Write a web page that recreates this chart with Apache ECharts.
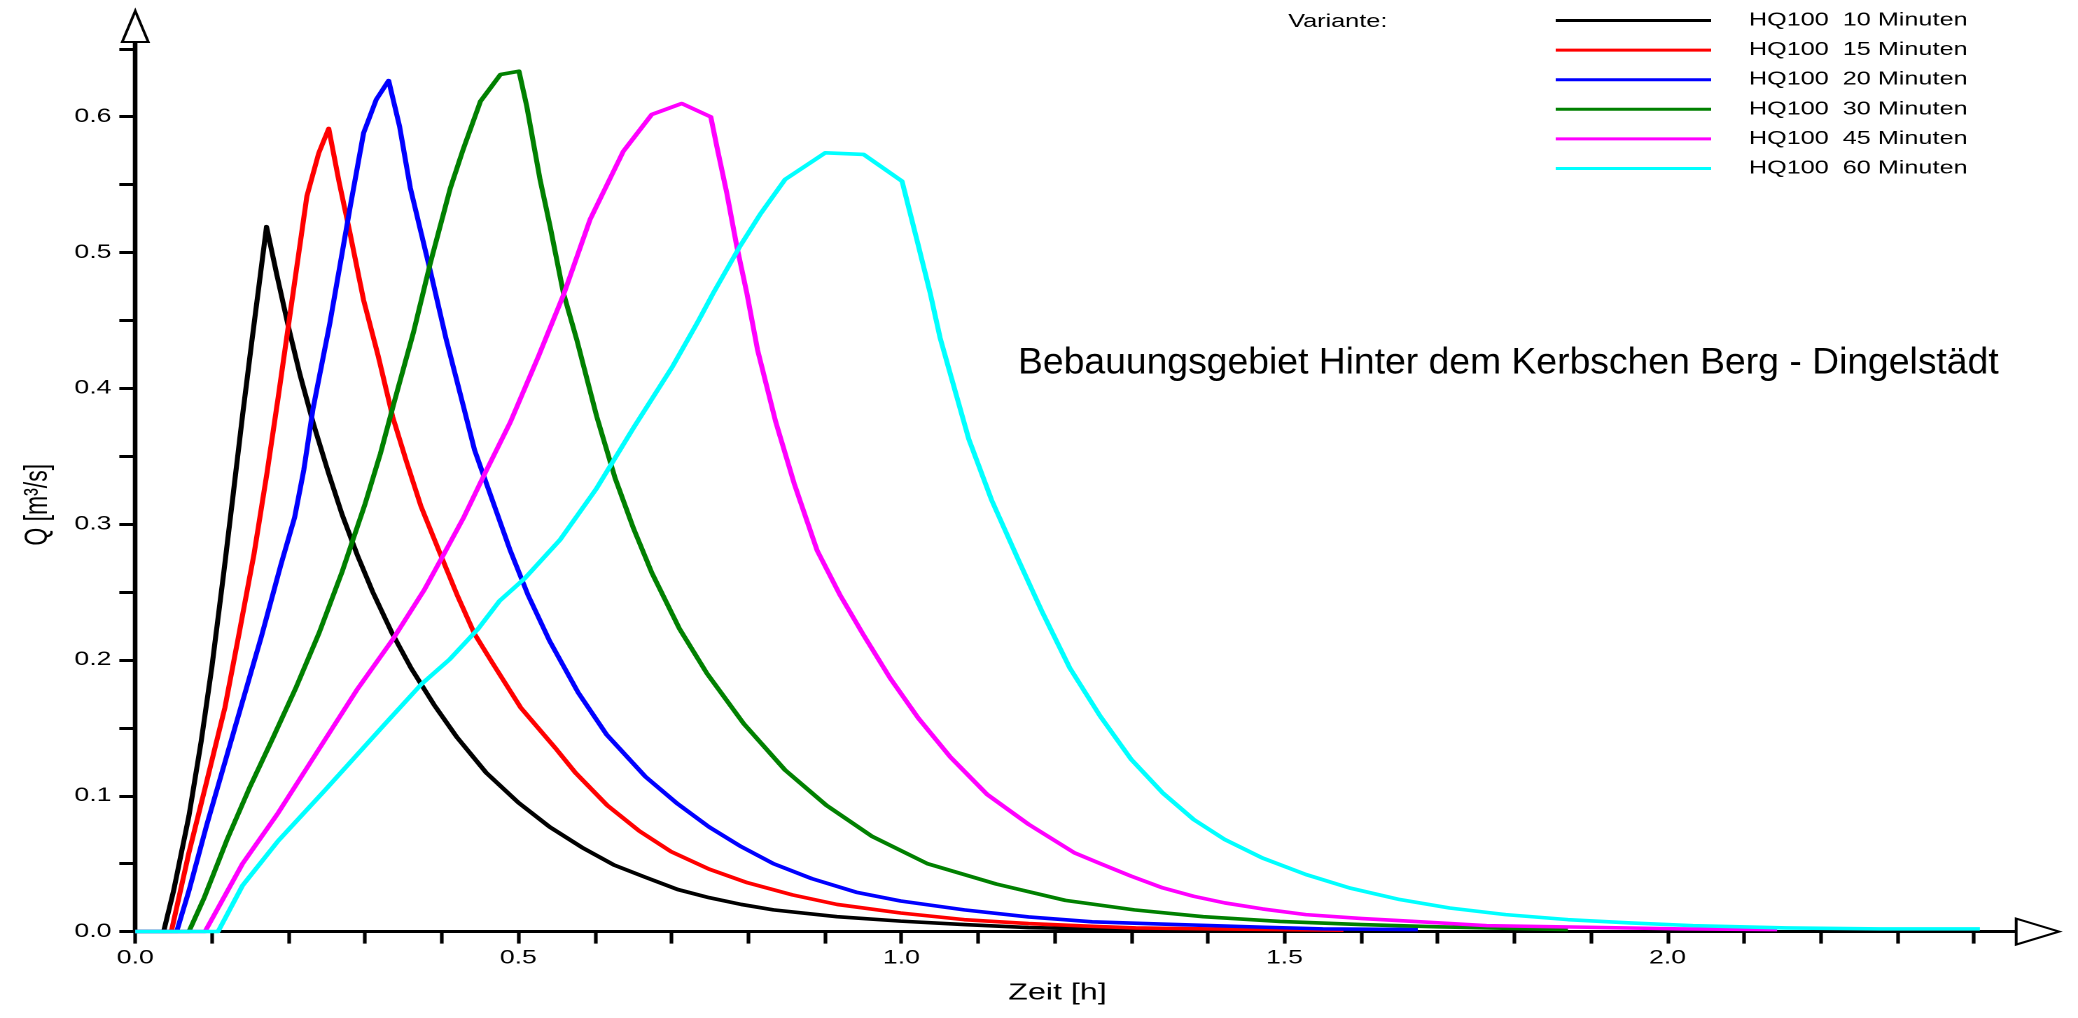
<!DOCTYPE html>
<html>
<head>
<meta charset="utf-8">
<script src="https://cdn.jsdelivr.net/npm/echarts@6/dist/echarts.min.js"></script>
<style>
  html, body { margin: 0; padding: 0; background: #ffffff; overflow: hidden; }
  /* the plot is laid out narrow and widened horizontally, giving the wide lettering of the sheet */
  #chart { width: 1484px; height: 1018px; transform: scaleX(1.40027); transform-origin: 0 0; }
</style>
</head>
<body>
<div id="chart"></div>
<script>
// Abflussganglinien HQ100 fuer verschiedene Regendauern: Zeit [h] / Abfluss Q [m3/s]
const t10 = [0, 0.037, 0.050, 0.070, 0.086, 0.100, 0.115, 0.128, 0.140, 0.152, 0.162, 0.1713, 0.185, 0.200, 0.215, 0.233, 0.252, 0.270, 0.290, 0.310, 0.335, 0.360, 0.390, 0.420, 0.458, 0.500, 0.541, 0.583, 0.625, 0.666, 0.708, 0.749, 0.791, 0.833, 0.916, 0.999, 1.082, 1.166, 1.249, 1.306, 1.400];
const q10 = [0, 0, 0.030, 0.085, 0.140, 0.195, 0.262, 0.323, 0.380, 0.434, 0.478, 0.519, 0.483, 0.445, 0.410, 0.373, 0.338, 0.307, 0.277, 0.250, 0.220, 0.194, 0.167, 0.143, 0.117, 0.095, 0.077, 0.062, 0.049, 0.040, 0.031, 0.025, 0.020, 0.016, 0.011, 0.0077, 0.0052, 0.0030, 0.0020, 0.0015, 0.0010];

const t15 = [0, 0.047, 0.070, 0.093, 0.117, 0.135, 0.155, 0.172, 0.1867, 0.224, 0.2396, 0.2525, 0.266, 0.280, 0.298, 0.317, 0.336, 0.354, 0.373, 0.396, 0.420, 0.443, 0.466, 0.503, 0.550, 0.5745, 0.616, 0.658, 0.699, 0.749, 0.799, 0.858, 0.916, 0.999, 1.082, 1.166, 1.249, 1.306, 1.400, 1.577];
const q15 = [0, 0, 0.058, 0.110, 0.165, 0.218, 0.278, 0.338, 0.394, 0.5415, 0.5734, 0.5913, 0.552, 0.515, 0.465, 0.424, 0.379, 0.346, 0.313, 0.281, 0.248, 0.219, 0.198, 0.165, 0.134, 0.117, 0.093, 0.074, 0.059, 0.046, 0.036, 0.027, 0.020, 0.0137, 0.0088, 0.0059, 0.0039, 0.0027, 0.0020, 0.0010];

const t20 = [0, 0.054, 0.070, 0.093, 0.130, 0.165, 0.190, 0.208, 0.220, 0.232, 0.254, 0.280, 0.298, 0.3146, 0.3307, 0.345, 0.359, 0.373, 0.387, 0.4056, 0.4243, 0.4429, 0.4662, 0.4895, 0.5128, 0.5408, 0.5781, 0.6154, 0.666, 0.708, 0.749, 0.791, 0.833, 0.883, 0.941, 0.999, 1.082, 1.166, 1.249, 1.329, 1.475, 1.550, 1.674];
const q20 = [0, 0, 0.030, 0.078, 0.150, 0.218, 0.270, 0.305, 0.340, 0.385, 0.448, 0.532, 0.588, 0.6127, 0.6266, 0.5928, 0.5476, 0.5147, 0.4818, 0.4366, 0.3956, 0.3545, 0.3175, 0.2805, 0.2476, 0.2140, 0.1760, 0.1449, 0.1140, 0.0940, 0.0770, 0.0625, 0.0500, 0.0390, 0.0290, 0.0225, 0.0160, 0.0108, 0.0072, 0.0057, 0.0032, 0.0020, 0.0015];

const t30 = [0, 0.070, 0.090, 0.120, 0.150, 0.180, 0.210, 0.240, 0.270, 0.300, 0.320, 0.339, 0.363, 0.385, 0.411, 0.428, 0.4506, 0.4767, 0.5008, 0.511, 0.5283, 0.5414, 0.5588, 0.5762, 0.6024, 0.6263, 0.6503, 0.6743, 0.7103, 0.7462, 0.7942, 0.8481, 0.9021, 0.962, 1.034, 1.124, 1.214, 1.304, 1.394, 1.494, 1.600, 1.700, 1.870];
const q30 = [0, 0, 0.025, 0.068, 0.107, 0.143, 0.180, 0.220, 0.265, 0.315, 0.352, 0.392, 0.441, 0.492, 0.547, 0.576, 0.6114, 0.6311, 0.6335, 0.6077, 0.5538, 0.5194, 0.4703, 0.4359, 0.3791, 0.3339, 0.2969, 0.2641, 0.2230, 0.1901, 0.1531, 0.1190, 0.0930, 0.0700, 0.0500, 0.0350, 0.0230, 0.0160, 0.0110, 0.0075, 0.0052, 0.0035, 0.0015];

const t45 = [0, 0.091, 0.140, 0.1865, 0.2424, 0.2891, 0.3357, 0.3776, 0.4009, 0.4289, 0.4569, 0.4895, 0.5268, 0.5594, 0.5936, 0.6371, 0.6741, 0.7133, 0.7512, 0.759, 0.772, 0.7851, 0.7982, 0.8122, 0.8361, 0.8601, 0.8901, 0.9201, 0.950, 0.986, 1.022, 1.0639, 1.1119, 1.166, 1.2258, 1.2595, 1.300, 1.341, 1.3816, 1.4223, 1.4712, 1.528, 1.6015, 1.6666, 1.764, 1.895, 2.017, 2.143];
const q45 = [0, 0, 0.050, 0.0874, 0.1367, 0.1778, 0.2148, 0.2520, 0.2760, 0.3052, 0.3380, 0.3750, 0.4243, 0.4695, 0.5243, 0.5746, 0.6016, 0.6097, 0.5999, 0.5783, 0.5440, 0.5047, 0.4703, 0.4284, 0.3750, 0.3298, 0.2805, 0.2476, 0.2189, 0.1860, 0.1572, 0.1285, 0.1010, 0.0790, 0.0580, 0.0501, 0.0408, 0.0322, 0.0260, 0.0211, 0.0167, 0.0125, 0.0096, 0.0076, 0.0044, 0.0032, 0.0020, 0.0015];

const t60 = [0, 0.108, 0.140, 0.1865, 0.2471, 0.3263, 0.373, 0.4103, 0.4476, 0.4755, 0.5082, 0.5548, 0.6014, 0.6503, 0.7013, 0.7343, 0.7546, 0.7894, 0.8155, 0.8482, 0.9006, 0.9507, 1.0008, 1.0201, 1.0375, 1.0505, 1.0879, 1.1179, 1.1538, 1.1838, 1.2197, 1.2595, 1.3001, 1.3409, 1.3816, 1.4224, 1.4712, 1.5282, 1.5852, 1.6504, 1.7155, 1.7888, 1.8702, 1.9517, 2.0331, 2.1553, 2.2774, 2.4077];
const q60 = [0, 0, 0.0339, 0.0668, 0.1038, 0.1531, 0.1819, 0.2004, 0.2230, 0.2435, 0.2600, 0.2887, 0.3257, 0.3709, 0.4161, 0.4490, 0.4703, 0.5047, 0.5280, 0.5538, 0.5734, 0.5722, 0.5525, 0.5096, 0.4703, 0.4372, 0.3627, 0.3175, 0.2723, 0.2353, 0.1942, 0.1586, 0.1267, 0.1022, 0.0825, 0.0677, 0.0542, 0.0420, 0.0321, 0.0236, 0.0174, 0.0125, 0.0088, 0.0064, 0.0044, 0.0027, 0.0020, 0.0020];

const seriesNames = ['HQ100  10 Minuten', 'HQ100  15 Minuten', 'HQ100  20 Minuten', 'HQ100  30 Minuten', 'HQ100  45 Minuten', 'HQ100  60 Minuten'];
const seriesTimes = [t10, t15, t20, t30, t45, t60];
const seriesFlows = [q10, q15, q20, q30, q45, q60];
const seriesColors = ['#000000', '#ff0000', '#0000ff', '#008000', '#ff00ff', '#00ffff'];

const xTickValues = [0, 0.1, 0.2, 0.3, 0.4, 0.5, 0.6, 0.7, 0.8, 0.9, 1.0, 1.1, 1.2, 1.3, 1.4, 1.5, 1.6, 1.7, 1.8, 1.9, 2.0, 2.1, 2.2, 2.3, 2.4];
const xLabelValues = [0, 0.5, 1.0, 1.5, 2.0];
const yTickValues = [0, 0.05, 0.1, 0.15, 0.2, 0.25, 0.3, 0.35, 0.4, 0.45, 0.5, 0.55, 0.6, 0.65];
const yLabelValues = [0, 0.1, 0.2, 0.3, 0.4, 0.5, 0.6];

const headline = 'Bebauungsgebiet Hinter dem Kerbschen Berg - Dingelstädt';

const FONT = '"Liberation Sans", Arial, sans-serif';
const STRETCH = 1.40027;

const chart = echarts.init(document.getElementById('chart'), null, { devicePixelRatio: 2 });

const series = seriesNames.map(function (name, i) {
  return {
    name: name,
    type: 'line',
    data: seriesTimes[i].map(function (t, k) { return [t, seriesFlows[i][k]]; }),
    showSymbol: false,
    symbol: 'none',
    color: seriesColors[i],
    lineStyle: { color: seriesColors[i], width: 3.6, join: 'round' },
    z: 2 + i
  };
});

chart.setOption({
  animation: false,
  backgroundColor: '#ffffff',
  textStyle: { fontFamily: FONT },
  title: {
    text: 'Variante:',
    left: 920, top: 12, padding: 0,
    textStyle: { fontSize: 18, fontWeight: 'normal', color: '#000', fontFamily: FONT, lineHeight: 20 }
  },
  // the project caption keeps its natural proportions, so it is narrowed back against the widening
  graphic: [{
    type: 'text',
    x: 727, y: 363,
    scaleX: 1 / STRETCH,
    silent: true,
    style: {
      text: headline,
      fontSize: 37.3, fontFamily: FONT, fill: '#000',
      align: 'left', verticalAlign: 'middle'
    }
  }],
  legend: {
    orient: 'vertical',
    left: 1111, top: 10.5, padding: 0,
    icon: 'rect',
    itemWidth: 111, itemHeight: 3, itemGap: 9.6,
    textStyle: { fontSize: 18, color: '#000', fontFamily: FONT, lineHeight: 20, padding: [0, 0, 0, 22] },
    data: seriesNames
  },
  grid: { left: 96.6, right: 44.2, top: 42, bottom: 86.4 },
  xAxis: {
    type: 'value', min: 0, max: 2.455,
    name: 'Zeit [h]', nameLocation: 'middle', nameGap: 50,
    nameTextStyle: { fontSize: 23, color: '#000', fontFamily: FONT, padding: [0, 26, 0, 0] },
    axisLine: {
      onZero: false,
      lineStyle: { color: '#000', width: 3 },
      symbol: ['none', 'emptyTriangle'], symbolSize: [26, 30.7], symbolOffset: [0, 15.4]
    },
    axisTick: { show: true, length: 12, customValues: xTickValues, lineStyle: { color: '#000', width: 2.6 } },
    axisLabel: {
      customValues: xLabelValues, margin: 17, fontSize: 19, color: '#000', fontFamily: FONT,
      formatter: function (v) { return v.toFixed(1); }
    },
    splitLine: { show: false }
  },
  yAxis: {
    type: 'value', min: 0, max: 0.655,
    name: 'Q [m³/s]', nameLocation: 'middle', nameGap: 58, nameRotate: 90,
    nameTextStyle: { fontSize: 23, color: '#000', fontFamily: FONT, padding: [0, 36, 0, 0] },
    axisLine: {
      onZero: false,
      lineStyle: { color: '#000', width: 3.3 },
      symbol: ['none', 'emptyTriangle'], symbolSize: [18.6, 31], symbolOffset: [0, 15.5]
    },
    axisTick: { show: true, length: 11.4, customValues: yTickValues, lineStyle: { color: '#000', width: 3 } },
    axisLabel: {
      customValues: yLabelValues, margin: 17, fontSize: 19, color: '#000', fontFamily: FONT,
      formatter: function (v) { return v.toFixed(1); }
    },
    splitLine: { show: false }
  },
  series: series
});
</script>
</body>
</html>
